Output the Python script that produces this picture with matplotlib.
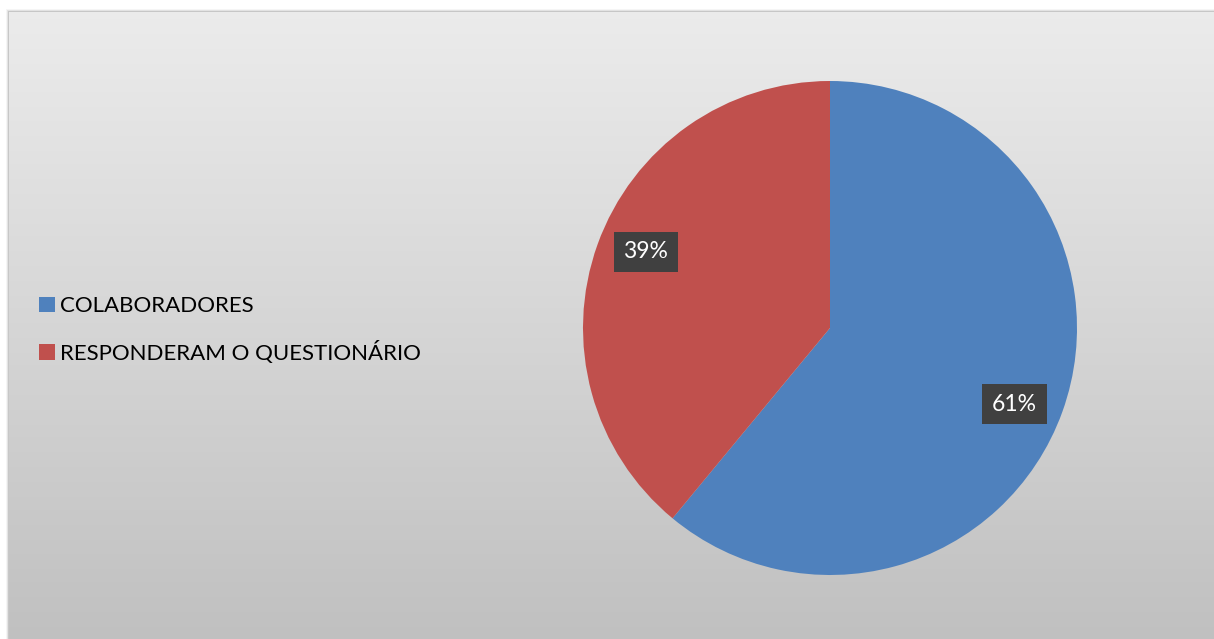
import numpy as np
import matplotlib.pyplot as plt
from matplotlib.colors import LinearSegmentedColormap

# share of staff vs. those who answered the questionnaire
labels = ['COLABORADORES', 'RESPONDERAM O QUESTIONÁRIO']
shares = [61, 39]
colors = ['#4f81bd', '#c0504d']

W, H = 1214, 639
fig = plt.figure(figsize=(W / 100, H / 100), dpi=100)
fig.patch.set_facecolor('white')

# chart area with vertical grey gradient and soft shadow at left/top
bg = fig.add_axes([0, 0, 1, 1])
bg.axis('off')
for i, a in enumerate([0.04, 0.07, 0.12]):
    bg.add_patch(plt.Rectangle((6 + i, 9 + i), W + 20, H + 20, color='black', alpha=a, lw=0))
ys = np.linspace(12, H + 10, 257)
grad = np.linspace(0, 1, 256).reshape(-1, 1)
cmap = LinearSegmentedColormap.from_list('bg', ['#ebebeb', '#bfbfbf'])
mesh = bg.pcolormesh([9, W + 40], ys, grad, cmap=cmap, shading='flat', zorder=2,
                     antialiased=False, edgecolors='none')
mesh.set_clip_on(False)
bg.set_xlim(0, W)
bg.set_ylim(H, 0)

# pie
cx, cy, r = 830, 328, 247
ax = fig.add_axes([(cx - r) / W, (H - cy - r) / H, 2 * r / W, 2 * r / H])
wedges, _, autotexts = ax.pie(
    shares, colors=colors, startangle=90, counterclock=False,
    radius=1, autopct='%d%%', pctdistance=0.8,
    wedgeprops=dict(linewidth=0),
    textprops=dict(color='white', fontsize=16.5, family='Lato'),
)
# data labels sit a little further clockwise than the wedge middle
for w, t in zip(wedges, autotexts):
    mid = np.deg2rad((w.theta1 + w.theta2) / 2 - 2.7)
    t.set_position((0.808 * np.cos(mid), 0.808 * np.sin(mid)))
    t.set_bbox(dict(facecolor='#404040', edgecolor='none', boxstyle='square,pad=0.42'))
ax.set_xlim(-1, 1)
ax.set_ylim(-1, 1)
ax.set_aspect('equal')

fig.legend(
    wedges, labels, loc='center left', bbox_to_anchor=(19 / W, 1 - 330 / H),
    frameon=False, prop=dict(family='Lato', size=16),
    handlelength=0.7, handleheight=0.7, handletextpad=0.25, labelspacing=1.1,
)

fig.savefig('out.png', dpi=100)
